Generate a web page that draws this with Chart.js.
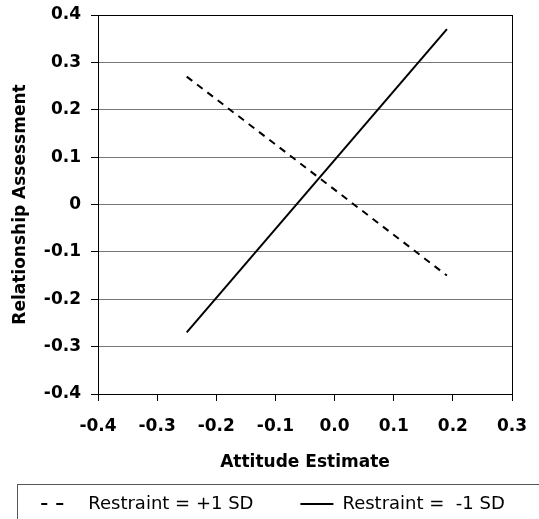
<!DOCTYPE html>
<html>
<head>
<meta charset="utf-8">
<script src="https://cdn.jsdelivr.net/npm/chart.js@4"></script>
<style>
  html, body { margin: 0; padding: 0; background: #fff; }
  #wrap { width: 539px; height: 519px; }
</style>
</head>
<body>
<div id="wrap"><canvas id="c" width="539" height="519"></canvas></div>
<script>
// ---- data ----
const seriesNames = ['Restraint = +1 SD', 'Restraint =  -1 SD'];
const attitudeX = [-0.25, 0.19];
const restraintPlus = [0.27, -0.15];   // dashed
const restraintMinus = [-0.27, 0.37];  // solid
const xTickLabels = ['-0.4', '-0.3', '-0.2', '-0.1', '0.0', '0.1', '0.2', '0.3'];
const yTickLabels = ['-0.4', '-0.3', '-0.2', '-0.1', '0', '0.1', '0.2', '0.3', '0.4'];
const xTitle = 'Attitude Estimate';
const yTitle = 'Relationship Assessment';

const FONT = "'DejaVu Sans', sans-serif";
const BOTTOM_PAD = -4;
const LEFT_PAD = -20;

const legendBox = {
  id: 'legendBox',
  afterDraw(chart) {
    const ctx = chart.ctx;
    ctx.save();
    ctx.strokeStyle = '#555';
    ctx.lineWidth = 1;
    ctx.strokeRect(17.5, 484.5, 600, 100);
    ctx.restore();
  }
};

new Chart(document.getElementById('c'), {
  type: 'scatter',
  data: {
    datasets: [
      {
        label: seriesNames[0],
        data: attitudeX.map((x, i) => ({ x, y: restraintPlus[i] })),
        showLine: true,
        borderColor: '#000',
        borderWidth: 2,
        borderDash: [7, 6],
        pointRadius: 0,
        pointStyle: 'line'
      },
      {
        label: seriesNames[1],
        data: attitudeX.map((x, i) => ({ x, y: restraintMinus[i] })),
        showLine: true,
        borderColor: '#000',
        borderWidth: 2,
        pointRadius: 0,
        pointStyle: 'line'
      }
    ]
  },
  options: {
    responsive: false,
    animation: false,
    devicePixelRatio: 1,
    layout: { padding: { top: 15, right: 0, left: LEFT_PAD, bottom: BOTTOM_PAD } },
    plugins: {
      tooltip: { enabled: false },
      legend: {
        position: 'bottom',
        align: 'center',
        labels: {
          usePointStyle: true,
          pointStyleWidth: 65,
          boxHeight: 16,
          padding: 15,
          color: '#000',
          font: { family: FONT, size: 18 },
          generateLabels(chart) {
            return chart.data.datasets.map((ds, i) => ({
              text: ds.label,
              fillStyle: 'rgba(0,0,0,0)',
              strokeStyle: '#000',
              lineWidth: 2,
              lineDash: i === 0 ? [0, 27, 6, 9, 7, 1000] : [0, 32, 33, 1000],
              pointStyle: 'line',
              datasetIndex: i,
              hidden: false
            }));
          }
        }
      }
    },
    scales: {
      x: {
        type: 'linear',
        min: -0.4,
        max: 0.3,
        afterBuildTicks(scale) {
          scale.ticks = xTickLabels.map(v => ({ value: parseFloat(v) }));
        },
        afterFit(scale) {
          const lh = scale.chart.legend ? scale.chart.legend.height : 43;
          scale.height = 519 - BOTTOM_PAD - lh - 394;
          scale.paddingLeft = 0;
          scale.paddingRight = 27;
        },
        border: { display: true, color: '#000', width: 1 },
        grid: {
          color: ctx => (ctx.index === xTickLabels.length - 1 ? '#000' : 'rgba(0,0,0,0)'),
          tickColor: '#000',
          tickLength: 7,
          drawOnChartArea: true
        },
        ticks: {
          color: '#000',
          padding: 15,
          maxRotation: 0,
          autoSkip: false,
          font: { family: FONT, size: 17, weight: 'bold' },
          callback: (v, i) => xTickLabels[i]
        },
        title: {
          display: true,
          text: xTitle,
          color: '#000',
          padding: { top: 4, bottom: 7 },
          font: { family: FONT, size: 17, weight: 'bold' }
        }
      },
      y: {
        type: 'linear',
        min: -0.4,
        max: 0.4,
        afterBuildTicks(scale) {
          scale.ticks = yTickLabels.map(v => ({ value: parseFloat(v) }));
        },
        afterFit(scale) {
          scale.width = 98 - LEFT_PAD;
          scale.paddingTop = 0;
          scale.paddingBottom = 0;
        },
        border: { display: true, color: '#000', width: 1 },
        grid: {
          color: ctx => (ctx.index === yTickLabels.length - 1 ? '#000' : '#777'),
          tickColor: '#000',
          tickLength: 7
        },
        ticks: {
          color: '#000',
          padding: 10,
          autoSkip: false,
          font: { family: FONT, size: 17, weight: 'bold' },
          callback: (v, i) => yTickLabels[i]
        },
        title: {
          display: true,
          text: yTitle,
          color: '#000',
          padding: { top: 10 - LEFT_PAD, bottom: 0 },
          font: { family: FONT, size: 17, weight: 'bold' }
        }
      }
    }
  },
  plugins: [legendBox]
});
</script>
</body>
</html>
